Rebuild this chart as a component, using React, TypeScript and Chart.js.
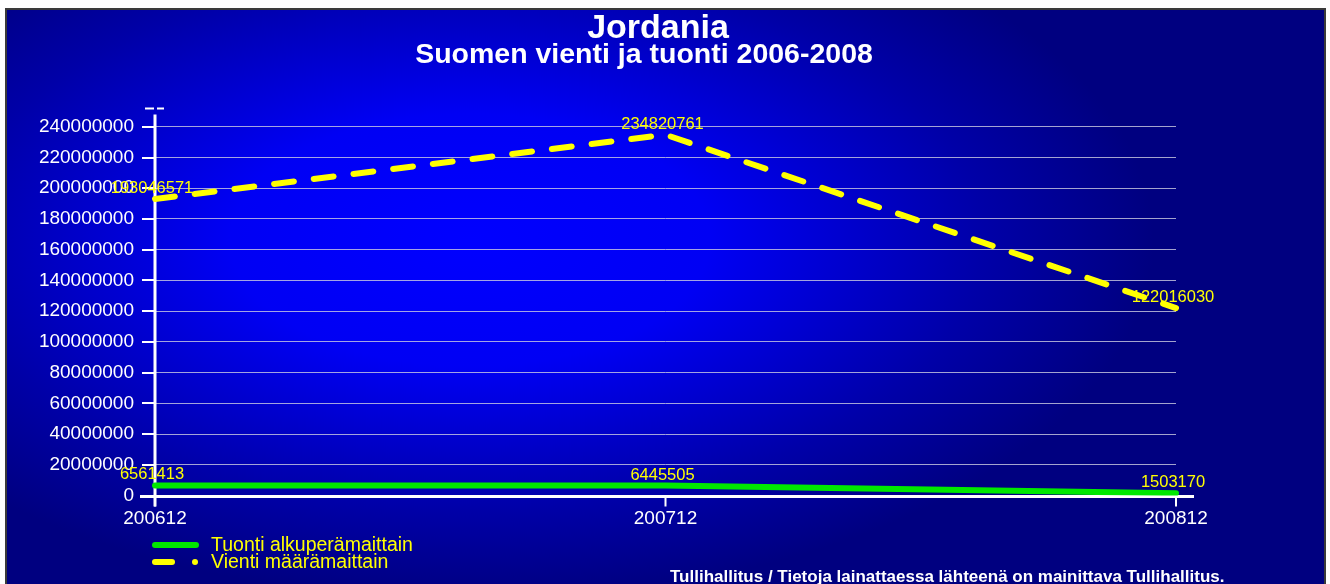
import React, { useEffect, useRef } from "react";
import { Chart, registerables } from "chart.js";

Chart.register(...registerables);

const categories = ["200612", "200712", "200812"];
const tuontiValues = [6561413, 6445505, 1503170];
const vientiValues = [193046571, 234820761, 122016030];
const seriesLabels = ["Tuonti alkuperämaittain", "Vienti määrämaittain"];
const yTickValues = [0, 20000000, 40000000, 60000000, 80000000, 100000000, 120000000, 140000000, 160000000, 180000000, 200000000, 220000000, 240000000];
const titleText = "Jordania";
const subtitleText = "Suomen vienti ja tuonti 2006-2008";
const footerText = "Tullihallitus / Tietoja lainattaessa lähteenä on mainittava Tullihallitus.";

const FONT = "'Liberation Sans', Arial, sans-serif";
const GREEN = "#00e800";
const YELLOW = "#ffff00";

const decorPlugin = {
  id: "decor",
  beforeDraw(chart: any) {
    const ctx = chart.ctx;
    const W = chart.width;
    const H = chart.height;
    ctx.save();
    ctx.fillStyle = "#ffffff";
    ctx.fillRect(0, 0, W, H);
    // background with elliptical radial gradient
    ctx.save();
    ctx.beginPath();
    ctx.rect(6, 9, 1319, 590);
    ctx.clip();
    ctx.fillStyle = "#000080";
    ctx.fillRect(6, 9, 1319, 590);
    ctx.translate(470, 240);
    ctx.scale(1.9, 1);
    const g = ctx.createRadialGradient(0, 0, 0, 0, 0, 360);
    g.addColorStop(0, "#0000ff");
    g.addColorStop(0.35, "#0000f4");
    g.addColorStop(0.75, "#0000a8");
    g.addColorStop(1, "#000080");
    ctx.fillStyle = g;
    ctx.fillRect(-2000, -2000, 4000, 4000);
    ctx.restore();
    ctx.strokeStyle = "#3a3a3a";
    ctx.lineWidth = 2;
    ctx.strokeRect(6, 9, 1319, 600);

    // titles
    ctx.fillStyle = "#ffffff";
    ctx.textAlign = "center";
    ctx.textBaseline = "alphabetic";
    ctx.font = `bold 34px ${FONT}`;
    ctx.fillText(titleText, 658, 38);
    ctx.font = `bold 28.5px ${FONT}`;
    ctx.fillText(subtitleText, 644, 63);

    // footer
    ctx.font = `bold 17px ${FONT}`;
    ctx.textAlign = "left";
    ctx.fillText(footerText, 670, 582);

    // legend
    ctx.lineCap = "round";
    ctx.lineWidth = 6;
    ctx.strokeStyle = GREEN;
    ctx.beginPath();
    ctx.moveTo(155, 545);
    ctx.lineTo(196, 545);
    ctx.stroke();
    ctx.strokeStyle = YELLOW;
    ctx.beginPath();
    ctx.moveTo(155, 562);
    ctx.lineTo(172, 562);
    ctx.stroke();
    ctx.fillStyle = YELLOW;
    ctx.beginPath();
    ctx.arc(195, 562, 3, 0, Math.PI * 2);
    ctx.fill();
    ctx.font = `19.5px ${FONT}`;
    ctx.fillStyle = YELLOW;
    ctx.textAlign = "left";
    ctx.fillText(seriesLabels[0], 211, 551);
    ctx.fillText(seriesLabels[1], 211, 568);
    ctx.restore();
  },
  beforeDatasetsDraw(chart: any) {
    const ctx = chart.ctx;
    const { left, right, top, bottom } = chart.chartArea;
    const y = chart.scales.y;
    const x = chart.scales.x;
    ctx.save();
    ctx.strokeStyle = "#ffffff";
    ctx.lineCap = "butt";
    // y tick marks
    ctx.lineWidth = 2;
    yTickValues.forEach((v) => {
      const py = Math.round(y.getPixelForValue(v));
      ctx.beginPath();
      ctx.moveTo(left - 13, py);
      ctx.lineTo(left, py);
      ctx.stroke();
    });
    // x tick marks
    categories.forEach((_, i) => {
      const px = x.getPixelForValue(i);
      ctx.beginPath();
      ctx.moveTo(px, bottom);
      ctx.lineTo(px, bottom + 11);
      ctx.stroke();
    });
    // axes
    ctx.lineWidth = 3;
    ctx.beginPath();
    ctx.moveTo(left, top);
    ctx.lineTo(left, bottom + 11);
    ctx.stroke();
    ctx.beginPath();
    ctx.moveTo(left - 15, bottom + 1);
    ctx.lineTo(right + 18, bottom + 1);
    ctx.stroke();
    // small mark at axis top
    ctx.lineWidth = 2;
    ctx.beginPath();
    ctx.moveTo(left - 10, top - 6);
    ctx.lineTo(left - 1, top - 6);
    ctx.moveTo(left + 2, top - 6);
    ctx.lineTo(left + 9, top - 6);
    ctx.stroke();
    ctx.restore();
  },
  afterDatasetsDraw(chart: any) {
    const ctx = chart.ctx;
    ctx.save();
    ctx.font = `16.5px ${FONT}`;
    ctx.fillStyle = YELLOW;
    ctx.textAlign = "center";
    ctx.textBaseline = "alphabetic";
    chart.data.datasets.forEach((ds: any, di: number) => {
      const meta = chart.getDatasetMeta(di);
      meta.data.forEach((pt: any, i: number) => {
        ctx.fillText(String(ds.data[i]), pt.x - 3, pt.y - 6);
      });
    });
    ctx.restore();
  },
};

export default function App() {
  const ref = useRef<HTMLCanvasElement | null>(null);
  useEffect(() => {
    if (!ref.current) return;
    const chart = new Chart(ref.current, {
      type: "line",
      data: {
        labels: categories,
        datasets: [
          {
            label: seriesLabels[0],
            data: tuontiValues,
            borderColor: GREEN,
            backgroundColor: GREEN,
            borderWidth: 6,
            borderCapStyle: "round",
            pointRadius: 0,
            tension: 0,
          },
          {
            label: seriesLabels[1],
            data: vientiValues,
            borderColor: YELLOW,
            backgroundColor: YELLOW,
            borderWidth: 6,
            borderDash: [20, 20],
            borderCapStyle: "round",
            pointRadius: 0,
            tension: 0,
          },
        ],
      },
      options: {
        animation: false,
        responsive: false,
        layout: { padding: { left: 0, right: 154, top: 114.5, bottom: 48.5 } },
        plugins: {
          legend: { display: false },
          title: { display: false },
          tooltip: { enabled: false },
        },
        scales: {
          x: {
            type: "category",
            offset: false,
            grid: { display: false, drawTicks: false },
            border: { display: false },
            ticks: {
              color: "#ffffff",
              font: { family: FONT, size: 19 },
              padding: 12,
              maxRotation: 0,
              autoSkip: false,
            },
            afterFit: (s: any) => {
              s.height = 40;
            },
          },
          y: {
            min: 0,
            max: 248000000,
            afterBuildTicks: (s: any) => {
              s.ticks = yTickValues.map((v) => ({ value: v }));
            },
            grid: { color: "rgba(205,205,225,0.8)", lineWidth: 1, drawTicks: false },
            border: { display: false },
            ticks: {
              color: "#ffffff",
              font: { family: FONT, size: 19 },
              padding: 21,
              callback: (v: any) => String(v),
            },
            afterFit: (s: any) => {
              s.width = 155;
            },
          },
        },
      },
      plugins: [decorPlugin],
    });
    return () => chart.destroy();
  }, []);
  return (
    <div style={{ position: "absolute", left: 0, top: 0, width: 1330, height: 584 }}>
      <canvas ref={ref} width={1330} height={584} style={{ display: "block" }} />
    </div>
  );
}
